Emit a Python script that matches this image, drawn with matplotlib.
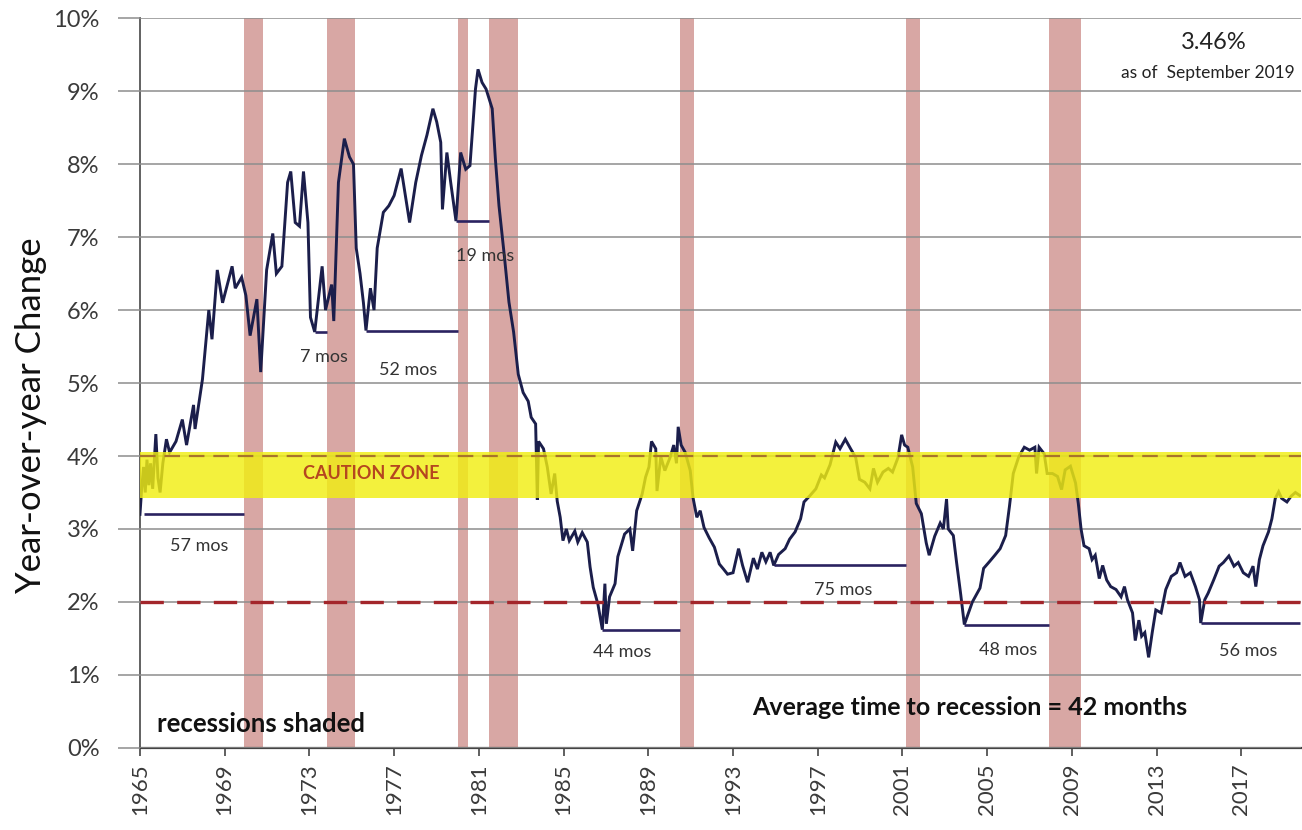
import matplotlib
matplotlib.use("Agg")
import matplotlib.pyplot as plt
from matplotlib.ticker import FixedLocator, FuncFormatter

plt.rcParams['font.family'] = ['Lato', 'DejaVu Sans']

# Year-over-year change (%), sampled along the series
years = [
    1965.00, 1965.08, 1965.17, 1965.25, 1965.33, 1965.42, 1965.50, 1965.60, 1965.75, 1965.85,
    1965.95, 1966.08, 1966.25, 1966.40, 1966.70, 1967.00, 1967.20, 1967.53, 1967.60, 1967.95,
    1968.25, 1968.40, 1968.65, 1968.90, 1969.35, 1969.50, 1969.80, 1970.00, 1970.20, 1970.52,
    1970.70, 1970.98, 1971.27, 1971.44, 1971.70, 1971.97, 1972.12, 1972.33, 1972.53, 1972.72,
    1972.93, 1973.05, 1973.25, 1973.60, 1973.76, 1974.05, 1974.15, 1974.37, 1974.65, 1974.89,
    1975.08, 1975.21, 1975.39, 1975.55, 1975.67, 1975.88, 1976.05, 1976.20, 1976.49, 1976.75,
    1977.00, 1977.33, 1977.55, 1977.73, 1978.02, 1978.29, 1978.55, 1978.83, 1979.01, 1979.20,
    1979.28, 1979.49, 1979.67, 1979.80, 1979.92, 1980.14, 1980.38, 1980.58, 1980.84, 1980.96,
    1981.15, 1981.34, 1981.63, 1981.78, 1981.95, 1982.20, 1982.42, 1982.64, 1982.86, 1983.09,
    1983.33, 1983.47, 1983.68, 1983.76, 1983.82, 1984.05, 1984.23, 1984.41, 1984.58, 1984.70,
    1984.84, 1984.97, 1985.13, 1985.27, 1985.53, 1985.67, 1985.88, 1986.12, 1986.25, 1986.40,
    1986.62, 1986.83, 1986.95, 1987.02, 1987.17, 1987.43, 1987.56, 1987.88, 1988.13, 1988.26,
    1988.45, 1988.71, 1988.87, 1989.03, 1989.15, 1989.35, 1989.41, 1989.59, 1989.78, 1990.04,
    1990.20, 1990.33, 1990.41, 1990.55, 1990.74, 1990.98, 1991.11, 1991.29, 1991.45, 1991.63,
    1991.87, 1992.12, 1992.35, 1992.55, 1992.74, 1993.00, 1993.26, 1993.45, 1993.69, 1993.96,
    1994.15, 1994.36, 1994.55, 1994.75, 1994.92, 1995.15, 1995.46, 1995.67, 1995.93, 1996.19,
    1996.35, 1996.61, 1996.91, 1997.17, 1997.32, 1997.58, 1997.85, 1998.05, 1998.30, 1998.55,
    1998.79, 1998.97, 1999.22, 1999.46, 1999.63, 1999.82, 2000.08, 2000.33, 2000.53, 2000.79,
    2000.96, 2001.10, 2001.25, 2001.48, 2001.65, 2001.89, 2002.12, 2002.26, 2002.52, 2002.78,
    2002.93, 2003.08, 2003.16, 2003.40, 2003.55, 2003.75, 2003.85, 2003.92, 2004.30, 2004.66,
    2004.83, 2005.10, 2005.36, 2005.61, 2005.87, 2006.05, 2006.23, 2006.49, 2006.75, 2007.00,
    2007.25, 2007.33, 2007.45, 2007.69, 2007.83, 2008.08, 2008.32, 2008.51, 2008.68, 2008.93,
    2009.17, 2009.30, 2009.43, 2009.57, 2009.81, 2009.95, 2010.10, 2010.29, 2010.45, 2010.64,
    2010.83, 2011.08, 2011.32, 2011.48, 2011.62, 2011.86, 2011.99, 2012.16, 2012.29, 2012.44,
    2012.62, 2012.79, 2012.96, 2013.21, 2013.43, 2013.69, 2013.94, 2014.10, 2014.34, 2014.59,
    2014.83, 2015.02, 2015.08, 2015.27, 2015.43, 2015.69, 2015.95, 2016.15, 2016.41, 2016.65,
    2016.85, 2017.09, 2017.34, 2017.55, 2017.68, 2017.85, 2018.02, 2018.28, 2018.44, 2018.60,
    2018.76, 2018.90, 2019.15, 2019.35, 2019.55, 2019.75,
]
yoy_pct = [
    3.20, 3.55, 3.85, 3.50, 3.95, 3.60, 3.90, 3.55, 4.30, 3.70,
    3.50, 3.90, 4.23, 4.05, 4.20, 4.50, 4.15, 4.70, 4.37, 5.05,
    6.00, 5.60, 6.55, 6.10, 6.60, 6.30, 6.45, 6.20, 5.65, 6.15,
    5.15, 6.55, 7.05, 6.50, 6.60, 7.75, 7.90, 7.20, 7.15, 7.90,
    7.20, 5.90, 5.70, 6.60, 6.00, 6.35, 5.85, 7.75, 8.35, 8.10,
    8.00, 6.85, 6.50, 6.10, 5.72, 6.30, 6.00, 6.85, 7.34, 7.43,
    7.57, 7.94, 7.53, 7.20, 7.75, 8.12, 8.40, 8.76, 8.58, 8.30,
    7.38, 8.16, 7.75, 7.48, 7.22, 8.16, 7.93, 7.98, 9.03, 9.30,
    9.12, 9.03, 8.76, 8.07, 7.43, 6.75, 6.11, 5.70, 5.12, 4.87,
    4.75, 4.53, 4.44, 3.40, 4.20, 4.10, 3.85, 3.48, 3.76, 3.38,
    3.16, 2.84, 3.00, 2.84, 2.97, 2.82, 2.95, 2.82, 2.48, 2.20,
    1.97, 1.62, 2.25, 1.70, 2.07, 2.25, 2.62, 2.93, 3.00, 2.70,
    3.25, 3.48, 3.71, 3.85, 4.20, 4.10, 3.52, 3.99, 3.80, 3.99,
    4.15, 3.90, 4.40, 4.15, 4.05, 3.80, 3.43, 3.16, 3.25, 3.02,
    2.88, 2.75, 2.52, 2.45, 2.38, 2.40, 2.73, 2.50, 2.27, 2.60,
    2.45, 2.68, 2.55, 2.68, 2.50, 2.65, 2.73, 2.86, 2.96, 3.14,
    3.37, 3.45, 3.55, 3.74, 3.70, 3.88, 4.19, 4.10, 4.23, 4.10,
    3.98, 3.68, 3.64, 3.55, 3.83, 3.64, 3.78, 3.83, 3.78, 3.98,
    4.29, 4.15, 4.12, 3.85, 3.35, 3.21, 2.81, 2.64, 2.90, 3.08,
    3.00, 3.41, 3.00, 2.91, 2.55, 2.10, 1.86, 1.69, 2.00, 2.19,
    2.46, 2.55, 2.64, 2.73, 2.91, 3.31, 3.76, 3.99, 4.12, 4.08,
    4.12, 3.76, 4.12, 4.03, 3.76, 3.76, 3.72, 3.54, 3.81, 3.86,
    3.63, 3.35, 3.00, 2.77, 2.73, 2.58, 2.64, 2.32, 2.50, 2.30,
    2.21, 2.17, 2.07, 2.21, 2.03, 1.85, 1.47, 1.75, 1.53, 1.58,
    1.24, 1.58, 1.89, 1.85, 2.17, 2.35, 2.40, 2.54, 2.35, 2.40,
    2.21, 2.03, 1.71, 2.03, 2.12, 2.30, 2.49, 2.54, 2.63, 2.49,
    2.54, 2.40, 2.35, 2.49, 2.21, 2.58, 2.77, 2.96, 3.14, 3.42,
    3.51, 3.42, 3.37, 3.45, 3.50, 3.46,
]

# Recession periods (start, end) in fractional years
recession_start = [1969.92, 1973.83, 1980.00, 1981.50, 1990.50, 2001.17, 2007.92]
recession_end = [1970.83, 1975.17, 1980.50, 1982.83, 1991.17, 2001.83, 2009.42]

# Months from the last dip below a level until the next recession (or latest reading)
bracket_months = [57, 7, 52, 19, 44, 75, 48, 56]
bracket_level = [3.20, 5.70, 5.72, 7.22, 1.62, 2.50, 1.69, 1.71]
bracket_end = [1969.92, 1973.83, 1980.00, 1981.50, 1990.50, 2001.17, 2007.92, 2019.75]
bracket_label_x = [1967.8, 1973.7, 1977.65, 1981.3, 1987.75, 1998.2, 2006.0, 2017.3]
bracket_label_y = [2.77, 5.36, 5.18, 6.74, 1.32, 2.16, 1.34, 1.33]

caution_low, caution_high = 3.42, 4.05
caution_line = 4.0
floor_line = 2.0
latest_value = 3.46
latest_month = "September 2019"
avg_months = 42

year_ticks = list(range(1965, 2018, 4))
pct_ticks = list(range(0, 11))

fig = plt.figure(figsize=(13.02, 8.30), dpi=100)
fig.patch.set_facecolor('white')
ax = fig.add_axes([0.1075, 0.099, 0.8915, 0.879])
ax.set_xlim(1965, 2019.8)
ax.set_ylim(0, 10)

# recession shading
for s, e in zip(recession_start, recession_end):
    ax.axvspan(s, e, ymin=0, ymax=1, color='#d8a7a4', lw=0, zorder=0.5)

# horizontal grid
ax.yaxis.set_major_locator(FixedLocator(pct_ticks))
ax.yaxis.set_major_formatter(FuncFormatter(lambda v, p: f"{int(v)}%"))
ax.grid(axis='y', color='#8d8d8d', linewidth=1.1, zorder=1)
ax.set_axisbelow(False)
for gl in ax.get_ygridlines():
    gl.set_zorder(1)

# 2% floor reference
ax.axhline(floor_line, color='#a3262b', lw=2.4, ls=(0, (7, 4)), zorder=3.5)

# series
ax.plot(years, yoy_pct, color='#1b1e4b', lw=2.1, zorder=3, solid_joinstyle='miter')

# time-to-recession brackets
for m, lvl, end in zip(bracket_months, bracket_level, bracket_end):
    ax.plot([end - m / 12.0, end], [lvl, lvl], color='#2a2260', lw=1.9, zorder=3.2,
            solid_capstyle='butt')
for m, lx, ly in zip(bracket_months, bracket_label_x, bracket_label_y):
    ax.text(lx, ly, f"{m} mos", ha='center', va='center', fontsize=13, color='#333333',
            zorder=6)

# caution zone highlight (drawn over the line like a highlighter)
ax.axhspan(caution_low, caution_high, color='#f1ee12', alpha=0.82, lw=0, zorder=4)
ax.axhline(caution_line, color='#a8742a', lw=1.6, ls=(0, (7, 4)), zorder=4.5)
ax.text(1975.9, 3.76, "CAUTION ZONE", ha='center', va='center', fontsize=13,
        fontweight='bold', color='#b5461f', zorder=6)

# annotations
ax.text(1965.8, 0.32, "recessions shaded", ha='left', va='center', fontsize=18.5,
        fontweight='bold', color='#111111', zorder=6)
ax.text(1993.9, 0.55, f"Average time to recession = {avg_months} months", ha='left',
        va='center', fontsize=18, fontweight='bold', color='#111111', zorder=6)
ax.text(0.925, 0.967, f"{latest_value:.2f}%", transform=ax.transAxes, ha='center',
        va='center', fontsize=17, color='#222222', zorder=6)
ax.text(0.92, 0.925, f"as of  {latest_month}", transform=ax.transAxes, ha='center',
        va='center', fontsize=12.5, color='#222222', zorder=6)

# axes styling
ax.xaxis.set_major_locator(FixedLocator(year_ticks))
ax.set_xticklabels([str(y) for y in year_ticks], rotation=90)
ax.tick_params(axis='x', direction='out', length=6, width=1.2, colors='#444444',
               labelsize=16, labelcolor='#3a3a3a', pad=5)
ax.tick_params(axis='y', direction='out', length=16, width=1.1, colors='#8d8d8d',
               labelsize=17, labelcolor='#3a3a3a', pad=13)
for side in ('top', 'right'):
    ax.spines[side].set_visible(False)
ax.spines['left'].set_color('#555555')
ax.spines['left'].set_linewidth(1.3)
ax.spines['bottom'].set_color('#444444')
ax.spines['bottom'].set_linewidth(1.6)
ax.set_facecolor('white')

fig.text(0.024, 0.50, "Year-over-year Change", rotation=90, ha='center', va='center',
         fontsize=25, color='#111111')

fig.savefig('out.png', dpi=100, facecolor='white')
